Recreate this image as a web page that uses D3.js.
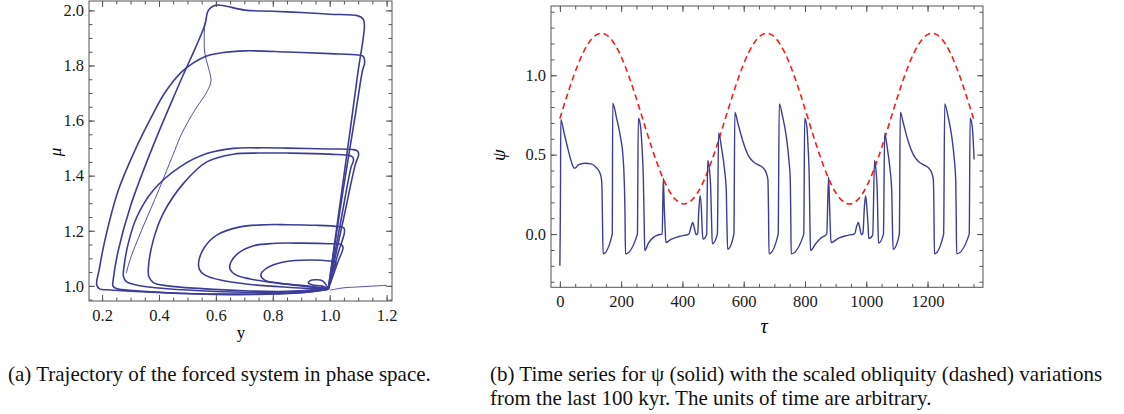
<!DOCTYPE html>
<html>
<head>
<meta charset="utf-8">
<script src="https://cdn.jsdelivr.net/npm/d3@7"></script>
<style>
  body { margin: 0; background: #fff; }
  svg text { font-family: "Liberation Serif", "DejaVu Serif", serif; }
</style>
</head>
<body>
<script>
// ---- panel (a): trajectory in phase space, [y, mu] pairs ----
const startPath = [[1.2,1.002],[1.15,0.999],[1.1,0.996],[1.05,0.993],[1.02,0.988],[1.0,0.984]];
const firstDescent = [[0.566,1.97],[0.561,1.947],[0.559,1.892],[0.561,1.844],[0.573,1.795],[0.583,1.747],
  [0.578,1.725],[0.56,1.69],[0.526,1.638],[0.48,1.553],[0.456,1.493],[0.40,1.35],[0.339,1.202],[0.30,1.10],[0.285,1.046]];
const loop200 = [[0.995,0.988],[1.03,1.25],[1.07,1.55],[1.10,1.78],[1.118,1.90],[1.122,1.945],[1.118,1.968],[1.10,1.980],
  [1.0,1.986],[0.9,1.992],[0.8,1.997],[0.702,2.001],[0.632,2.016],[0.602,2.019],[0.582,2.01],[0.571,1.995],[0.561,1.947],
  [0.47,1.73],[0.38,1.51],[0.30,1.29],[0.255,1.12],[0.239,1.021],[0.238,1.0],[0.25,0.99],[0.32,0.982],[0.45,0.974],
  [0.6,0.969],[0.75,0.969],[0.9,0.975],[0.995,0.988]];
const loop185 = [[0.995,0.988],[1.04,1.3],[1.09,1.62],[1.115,1.78],[1.123,1.812],[1.118,1.833],[1.10,1.838],[1.0,1.843],
  [0.85,1.849],[0.702,1.853],[0.62,1.846],[0.561,1.832],[0.48,1.777],[0.42,1.70],[0.374,1.614],[0.316,1.493],[0.257,1.347],
  [0.21,1.166],[0.19,1.06],[0.181,1.005],[0.19,0.99],[0.23,0.985],[0.35,0.978],[0.5,0.972],[0.65,0.97],[0.8,0.972],
  [0.93,0.978],[0.995,0.988]];
const loop150 = [[0.995,0.988],[1.05,1.25],[1.09,1.44],[1.102,1.478],[1.097,1.49],[1.08,1.495],[1.0,1.497],[0.85,1.5],
  [0.75,1.501],[0.661,1.499],[0.568,1.48],[0.474,1.432],[0.38,1.347],[0.322,1.25],[0.292,1.154],[0.277,1.069],[0.275,1.035],
  [0.285,1.015],[0.32,1.003],[0.4,0.992],[0.544,0.982],[0.7,0.977],[0.85,0.978],[0.995,0.988]];
const loop148 = [[0.995,0.988],[1.04,1.24],[1.075,1.43],[1.084,1.458],[1.078,1.47],[1.0,1.478],[0.85,1.482],[0.75,1.482],
  [0.661,1.478],[0.568,1.45],[0.486,1.372],[0.415,1.263],[0.38,1.166],[0.363,1.069],[0.364,1.035],[0.38,1.012],[0.43,1.0],
  [0.55,0.99],[0.7,0.982],[0.85,0.98],[0.995,0.988]];
const loop122 = [[0.995,0.988],[1.03,1.12],[1.052,1.195],[1.05,1.21],[1.03,1.215],[0.95,1.22],[0.85,1.222],[0.778,1.222],
  [0.685,1.214],[0.603,1.184],[0.56,1.14],[0.54,1.09],[0.542,1.06],[0.56,1.04],[0.62,1.02],[0.72,1.005],[0.85,0.995],[0.995,0.988]];
const loop115 = [[0.995,0.988],[1.03,1.09],[1.047,1.14],[1.04,1.15],[1.0,1.153],[0.9,1.155],[0.8,1.154],[0.73,1.145],
  [0.68,1.12],[0.652,1.085],[0.65,1.06],[0.67,1.04],[0.72,1.025],[0.8,1.012],[0.9,1.0],[0.995,0.988]];
const loop109 = [[0.995,0.988],[1.01,1.05],[1.022,1.085],[1.0,1.09],[0.9,1.093],[0.83,1.085],[0.78,1.065],[0.758,1.04],
  [0.77,1.022],[0.82,1.01],[0.9,1.002],[0.995,0.99]];
const loopTiny = [[0.995,0.99],[0.975,1.018],[0.95,1.022],[0.93,1.018],[0.925,1.01],[0.94,1.003],[0.97,1.0],[0.995,0.99]];
const yTicks = [0.2, 0.4, 0.6, 0.8, 1.0, 1.2];
const muTicks = [1.0, 1.2, 1.4, 1.6, 1.8, 2.0];

// ---- panel (b): time series ----
const tau = [0,1,2,3,14,27,39,47,52,60,81,102,118,131,136,137.5,139,141,171,172.5,185,197.5,206,210,212.5,214,
  253,256,262.5,268,272.5,275,277,289,306,322,334,337.5,341,343,346,364,389,421,427,433.5,439,445,450,453,457.5,462,464,467,
  479,482.5,487.5,492,495,497.5,514,518,527,537.5,543,545,547.5,568,571,581,597.5,614,631,647.5,664,674,679,681,682.5,
  712.5,716,727,739,747.5,752,753.5,755,796,799,806,810,814,816,818,835,852,871,877,881,885,910,939,962,968,974,979,984,989,
  994,998,1002.5,1006,1008,1021,1027,1031,1036,1038,1040,1056,1060,1068,1078,1083,1085,1087.5,1108,1111,1121,1137,1154,
  1171,1187,1204,1214,1219,1221,1222.5,1252.5,1256,1267,1279,1287.5,1292,1293.5,1295,1336,1339,1346,1350,1352];
const psi = [-0.20,0.0,0.30,0.72,0.635,0.53,0.446,0.415,0.418,0.436,0.446,0.442,0.421,0.383,0.341,0.28,0.09,-0.124,0.0,0.824,
  0.73,0.614,0.488,0.341,0.132,-0.124,0.0,0.729,0.687,0.551,0.341,0.09,-0.103,-0.057,-0.019,-0.004,0.0,0.352,0.15,0.06,-0.053,
  -0.032,-0.015,0.0,0.037,0.073,0.037,-0.004,0.006,0.132,0.241,0.153,0.048,-0.032,-0.004,0.463,0.415,0.30,0.09,-0.061,0.0,
  0.639,0.551,0.404,0.279,0.09,-0.095,0.0,0.767,0.698,0.583,0.499,0.455,0.436,0.415,0.383,0.341,0.132,-0.124,0.0,0.82,0.74,
  0.614,0.467,0.341,0.132,-0.124,0.0,0.729,0.677,0.551,0.341,0.09,-0.103,-0.061,-0.025,0.0,0.36,0.132,-0.053,-0.025,-0.008,
  0.002,0.044,0.073,0.037,-0.004,0.006,0.174,0.241,0.153,0.048,-0.028,-0.006,0.463,0.415,0.258,0.069,-0.057,0.0,0.635,0.55,
  0.40,0.28,0.09,-0.095,0.0,0.767,0.698,0.583,0.499,0.455,0.436,0.415,0.383,0.341,0.132,-0.124,0.0,0.82,0.74,0.614,0.467,
  0.341,0.132,-0.124,0.0,0.729,0.677,0.551,0.47];
const obTau = [0,30,60,90,120,150,180,210,240,270,300,330,360,390,420,450,480,510,540,570,600,630,660,690,720,750,780,
  810,840,870,900,930,960,990,1020,1050,1080,1110,1140,1170,1200,1230,1260,1290,1320,1350];
const obliquity = [0.727,0.911,1.072,1.192,1.256,1.256,1.192,1.072,0.911,0.727,0.543,0.382,0.262,0.198,0.198,0.262,0.382,0.543,
  0.727,0.911,1.072,1.192,1.256,1.256,1.192,1.072,0.911,0.727,0.543,0.382,0.262,0.198,0.198,0.262,0.382,0.543,
  0.727,0.911,1.072,1.192,1.256,1.256,1.192,1.072,0.911,0.727];
const tauTicks = [0, 200, 400, 600, 800, 1000, 1200];
const psiTicks = [0.0, 0.5, 1.0];

const blue = '#3d3d99', frameCol = '#555';

const svg = d3.select('body').append('svg').attr('width', 1124).attr('height', 414);

function range(a, b, s) { return d3.range(Math.round(a / s), Math.round(b / s) + 1).map(i => +(i * s).toFixed(4)); }

function drawFrame(x, y, xMajor, xMinor, yMajor, yMinor, xFmt, yFmt) {
  const [xa, xb] = x.range(), [ya, yb] = y.range();
  const g = svg.append('g');
  const inX = xMinor.filter(v => v >= x.domain()[0] && v <= x.domain()[1]);
  const inY = yMinor.filter(v => v >= y.domain()[0] && v <= y.domain()[1]);
  const axes = [
    [d3.axisBottom(x), 0, ya, xMajor, -6, xFmt, 8], [d3.axisBottom(x), 0, ya, inX, -3.5, '', 8],
    [d3.axisTop(x), 0, yb, xMajor, -6, '', 0], [d3.axisTop(x), 0, yb, inX, -3.5, '', 0],
    [d3.axisLeft(y), xa, 0, yMajor, -6, yFmt, 5], [d3.axisLeft(y), xa, 0, inY, -3.5, '', 5],
    [d3.axisRight(y), xb, 0, yMajor, -6, '', 0], [d3.axisRight(y), xb, 0, inY, -3.5, '', 0]
  ];
  axes.forEach(([ax, tx, ty, vals, size, fmt, pad]) => {
    const a = g.append('g').attr('transform', `translate(${tx},${ty})`)
      .call(ax.tickValues(vals).tickSize(size).tickSizeOuter(0).tickPadding(pad).tickFormat(fmt === '' ? () => '' : fmt));
    a.select('.domain').remove();
    a.selectAll('line').attr('stroke', frameCol).attr('stroke-width', 1);
    a.attr('font-family', '"Liberation Serif", serif').attr('font-size', 16.5);
    a.selectAll('text').attr('fill', '#1a1a1a');
  });
  g.append('rect').attr('x', xa).attr('y', yb).attr('width', xb - xa).attr('height', ya - yb)
    .attr('fill', 'none').attr('stroke', frameCol).attr('stroke-width', 1);
}

// ---- panel (a) ----
const xA = d3.scaleLinear().domain([0.154, 1.219]).range([89, 392]);
const yA = d3.scaleLinear().domain([0.945, 2.034]).range([301, 1]);
const lineA = d3.line().x(d => xA(d[0])).y(d => yA(d[1])).curve(d3.curveCatmullRom.alpha(0.5));
svg.append('clipPath').attr('id', 'clipA').append('rect')
  .attr('x', 89).attr('y', 1).attr('width', 303).attr('height', 300);
const gA = svg.append('g').attr('clip-path', 'url(#clipA)');
[loop200, loop185, loop150, loop148, loop122, loop115, loop109, loopTiny].forEach(l => {
  gA.append('path').datum(l).attr('d', lineA).attr('fill', 'none').attr('stroke', blue).attr('stroke-width', 1.6);
});
[startPath, firstDescent].forEach(l => {
  gA.append('path').datum(l).attr('d', lineA).attr('fill', 'none').attr('stroke', blue).attr('stroke-width', 0.9);
});
drawFrame(xA, yA, yTicks, range(0.15, 1.2, 0.05), muTicks, range(0.95, 2.0, 0.05), d3.format('.1f'), d3.format('.1f'));
svg.append('text').attr('transform', 'translate(61,152) rotate(-90)').attr('text-anchor', 'middle')
  .attr('font-size', 17).attr('font-style', 'italic').text('μ');
svg.append('text').attr('x', 241).attr('y', 338).attr('text-anchor', 'middle').attr('font-size', 17).text('y');

// ---- panel (b) ----
const xB = d3.scaleLinear().domain([-29, 1381]).range([551, 983]);
const yB = d3.scaleLinear().domain([-0.335, 1.436]).range([287.3, 6]);
const ts = tau.map((t, i) => [t, psi[i]]);
const ob = obTau.map((t, i) => [t, obliquity[i]]);
svg.append('path').datum(ob)
  .attr('d', d3.line().x(d => xB(d[0])).y(d => yB(d[1])).curve(d3.curveNatural))
  .attr('fill', 'none').attr('stroke', '#ff1a1a').attr('stroke-width', 1.6).attr('stroke-dasharray', '6,4');
svg.append('path').datum(ts)
  .attr('d', d3.line().x(d => xB(d[0])).y(d => yB(d[1])).curve(d3.curveMonotoneX))
  .attr('fill', 'none').attr('stroke', blue).attr('stroke-width', 1.4);
drawFrame(xB, yB, tauTicks, range(-25, 1375, 50), psiTicks, range(-0.3, 1.4, 0.1), d3.format('d'), d3.format('.1f'));
svg.append('text').attr('transform', 'translate(505,155) rotate(-90)').attr('text-anchor', 'middle')
  .attr('font-size', 19).attr('font-style', 'italic').text('ψ');
svg.append('text').attr('x', 764).attr('y', 333).attr('text-anchor', 'middle').attr('font-size', 20)
  .attr('font-style', 'italic').text('τ');

// ---- captions ----
const cap = svg.append('g').attr('font-size', 21).attr('fill', '#111');
cap.append('text').attr('x', 8).attr('y', 381).text('(a) Trajectory of the forced system in phase space.');
cap.append('text').attr('x', 490).attr('y', 381).text('(b) Time series for ψ (solid) with the scaled obliquity (dashed) variations');
cap.append('text').attr('x', 490).attr('y', 405).text('from the last 100 kyr. The units of time are arbitrary.');
</script>
</body>
</html>
